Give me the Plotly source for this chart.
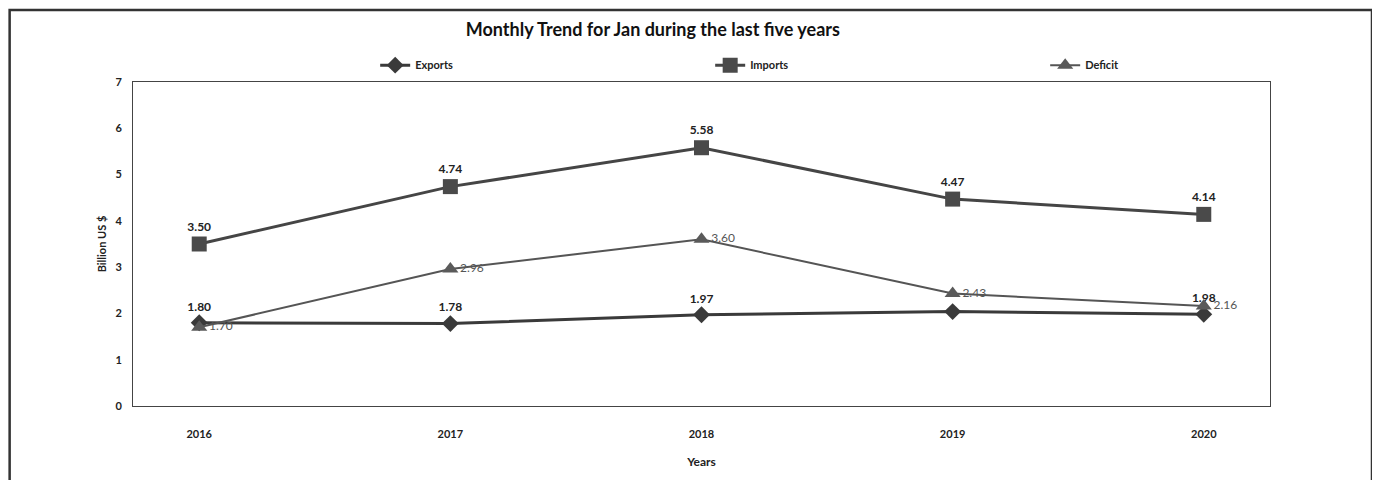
import plotly.graph_objects as go

years = ["2016", "2017", "2018", "2019", "2020"]
exports = [1.80, 1.78, 1.97, 2.04, 1.98]
imports = [3.50, 4.74, 5.58, 4.47, 4.14]
deficit = [1.70, 2.96, 3.60, 2.43, 2.16]
exports_labels = ["1.80", "1.78", "1.97", "", "1.98"]
imports_labels = [f"{v:.2f}" for v in imports]
deficit_labels = [f"{v:.2f}" for v in deficit]

FONT = "Lato"

fig = go.Figure()
fig.add_trace(go.Scatter(
    x=years, y=exports, name="Exports", mode="lines+markers+text",
    line=dict(color="#3a3a3a", width=3),
    marker=dict(symbol="diamond", size=13, color="#3a3a3a"),
    text=exports_labels, textposition="top center",
    textfont=dict(family=FONT, size=12, color="#222222", weight="bold"),
))
fig.add_trace(go.Scatter(
    x=years, y=imports, name="Imports", mode="lines+markers+text",
    line=dict(color="#454545", width=3),
    marker=dict(symbol="square", size=15, color="#4a4a4a"),
    text=imports_labels, textposition="top center",
    textfont=dict(family=FONT, size=12, color="#222222", weight="bold"),
))
fig.add_trace(go.Scatter(
    x=years, y=deficit, name="Deficit", mode="lines+markers+text",
    line=dict(color="#555555", width=2),
    marker=dict(symbol="triangle-up", size=14, color="#5a5a5a"),
    text=deficit_labels, textposition="middle right",
    textfont=dict(family=FONT, size=12, color="#555555"),
))

fig.update_layout(
    width=1372, height=472,
    margin=dict(l=125, r=110, t=74, b=74, autoexpand=False),
    paper_bgcolor="white", plot_bgcolor="white",
    font=dict(family=FONT, color="#222222"),
    title=dict(text="<b>Monthly Trend for Jan during the last five years</b>",
               x=0.47, xanchor="center", y=0.953, yanchor="middle",
               font=dict(family=FONT, size=18, color="#111111")),
    legend=dict(orientation="h", x=0.213, xanchor="left", y=1.052, yanchor="middle",
                entrywidth=290, entrywidthmode="pixels", itemwidth=30,
                font=dict(family=FONT, size=11, color="#222222", weight="bold"),
                bgcolor="rgba(0,0,0,0)"),
    showlegend=True,
    xaxis=dict(showgrid=False, showline=True, linecolor="#444444", linewidth=1,
               mirror=True, ticks="", ticklabelstandoff=18, automargin=False,
               tickfont=dict(family=FONT, size=11, color="#222222", weight="bold"),
               title=dict(text="<b>Years</b>", standoff=18,
                          font=dict(family=FONT, size=12, color="#222222"))),
    yaxis=dict(range=[0, 7], dtick=1, showgrid=False, zeroline=False, showline=True,
               linecolor="#444444", linewidth=1, mirror=True, ticks="",
               ticklabelstandoff=8, automargin=False,
               tickfont=dict(family=FONT, size=11, color="#222222", weight="bold"),
               title=dict(text="<b>Billion US $</b>", standoff=6,
                          font=dict(family=FONT, size=11, color="#222222"))),
)

fig.add_shape(type="rect", xref="paper", yref="paper",
              x0=-0.1085, x1=1.0897, y0=-0.24, y1=1.222,
              line=dict(color="#333333", width=2.5), fillcolor="rgba(0,0,0,0)",
              layer="below")

fig.write_html("out.html")
